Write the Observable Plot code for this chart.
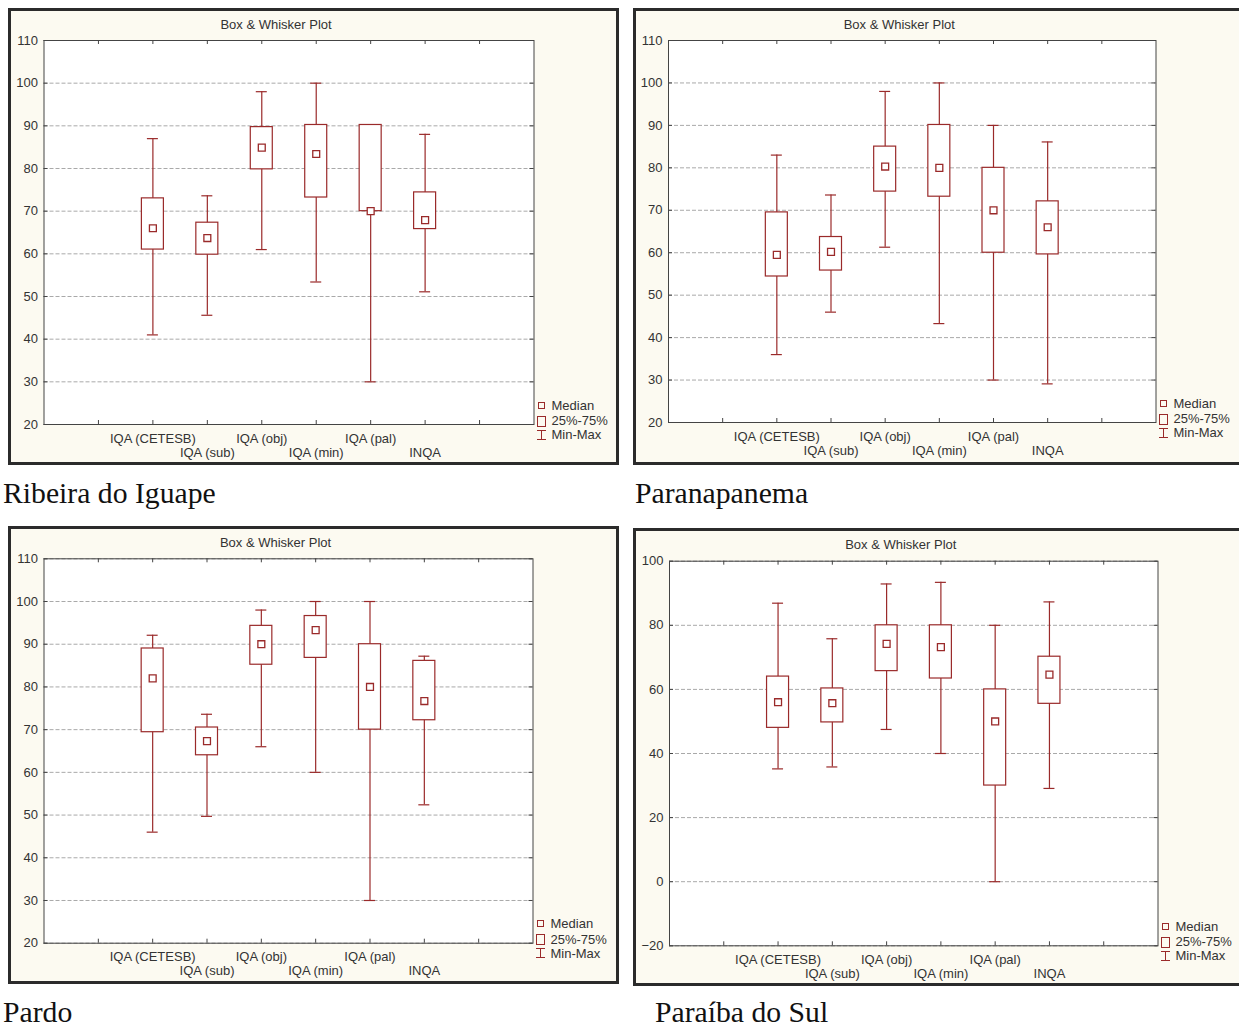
<!DOCTYPE html>
<html>
<head>
<meta charset="utf-8">
<script src="https://cdn.jsdelivr.net/npm/d3@7"></script>
<script src="https://cdn.jsdelivr.net/npm/@observablehq/plot@0.6"></script>
<style>
  html, body { margin: 0; padding: 0; background: #ffffff; }
  body { position: relative; width: 1239px; height: 1030px; overflow: hidden; font-family: "Liberation Sans", Arial, sans-serif; }
  .frame { position: absolute; box-sizing: border-box; border: 3px solid #2b2b2b; background: #fcfaf1; }
  .chart { position: absolute; }
  .chart svg { display: block; overflow: visible; }
  .caption { position: absolute; font-family: "Liberation Serif", "Times New Roman", serif; font-size: 29.7px; line-height: 29.7px; color: #111; white-space: nowrap; }
  .legtext { position: absolute; font-size: 13px; line-height: 15px; color: #333; white-space: nowrap; }
  .legbox { position: absolute; box-sizing: border-box; border: 1px solid #9a2a2a; }
  .legline { position: absolute; background: #9a2a2a; }
</style>
</head>
<body>
<script>
// ---------- data ----------
const categories = ["IQA (CETESB)", "IQA (sub)", "IQA (obj)", "IQA (min)", "IQA (pal)", "INQA"];
const regions = ["Ribeira do Iguape", "Paranapanema", "Pardo", "Paraíba do Sul"];
const chartTitle = "Box & Whisker Plot";
const legendLabels = ["Median", "25%-75%", "Min-Max"];

const ticksA = [20, 30, 40, 50, 60, 70, 80, 90, 100, 110];
const ticksB = [-20, 0, 20, 40, 60, 80, 100];

// Ribeira do Iguape
const ribeiraMin    = [41, 45.6, 61, 53.4, 30, 51.1];
const ribeiraQ1     = [61, 59.8, 79.8, 73.2, 70, 65.8];
const ribeiraMedian = [66, 63.7, 84.9, 83.4, 70, 67.9];
const ribeiraQ3     = [73, 67.3, 89.7, 90.2, 90.2, 74.4];
const ribeiraMax    = [87, 73.6, 98, 100, 90.2, 88];

// Paranapanema
const paranapanemaMin    = [36, 46, 61.3, 43.3, 30, 29.1];
const paranapanemaQ1     = [54.4, 55.8, 74.4, 73.2, 60, 59.6];
const paranapanemaMedian = [59.5, 60.2, 80.3, 80, 70, 66];
const paranapanemaQ3     = [69.5, 63.7, 85, 90.1, 80, 72.1];
const paranapanemaMax    = [83, 73.6, 98, 100, 90, 86.1];

// Pardo
const pardoMin    = [46, 49.7, 66, 60, 30, 52.4];
const pardoQ1     = [69.4, 64, 85.2, 86.8, 70, 72.2];
const pardoMedian = [82, 67.3, 90, 93.3, 80, 76.7];
const pardoQ3     = [89, 70.5, 94.3, 96.6, 90, 86.1];
const pardoMax    = [92.1, 73.6, 98, 100, 100, 87.2];

// Paraíba do Sul
const paraibaMin    = [35.2, 35.8, 47.5, 40, 0, 29.1];
const paraibaQ1     = [48, 49.7, 65.7, 63.4, 30, 55.5];
const paraibaMedian = [56, 55.7, 74.2, 73.2, 50, 64.6];
const paraibaQ3     = [64, 60.3, 80, 80, 60, 70.2];
const paraibaMax    = [86.9, 75.8, 92.9, 93.4, 80, 87.3];

// ---------- layout / style ----------
const RED = "#9a2a2a";
const panels = [
  {name: regions[0], min: ribeiraMin, q1: ribeiraQ1, med: ribeiraMedian, q3: ribeiraQ3, max: ribeiraMax,
   yDomain: [20, 110], yTicks: ticksA,
   fx: 8, fy: 8, fw: 611, fh: 457, px0: 43.5, px1: 533.5, py0: 40, py1: 424,
   cap: {x: 3, base: 504}},
  {name: regions[1], min: paranapanemaMin, q1: paranapanemaQ1, med: paranapanemaMedian, q3: paranapanemaQ3, max: paranapanemaMax,
   yDomain: [20, 110], yTicks: ticksA,
   fx: 633, fy: 8, fw: 620, fh: 457, px0: 668, px1: 1155.5, py0: 40, py1: 422,
   cap: {x: 635, base: 504}},
  {name: regions[2], min: pardoMin, q1: pardoQ1, med: pardoMedian, q3: pardoQ3, max: pardoMax,
   yDomain: [20, 110], yTicks: ticksA,
   fx: 8, fy: 526, fw: 611, fh: 458, px0: 43.5, px1: 532.5, py0: 558.3, py1: 942.7,
   cap: {x: 3, base: 1023}},
  {name: regions[3], min: paraibaMin, q1: paraibaQ1, med: paraibaMedian, q3: paraibaQ3, max: paraibaMax,
   yDomain: [-20, 100], yTicks: ticksB,
   fx: 633, fy: 528, fw: 620, fh: 458, px0: 669, px1: 1157.5, py0: 560.7, py1: 945.3,
   cap: {x: 655, base: 1023}}
];

function el(cls, style, text) {
  const d = document.createElement("div");
  d.className = cls;
  Object.assign(d.style, style);
  if (text != null) d.textContent = text;
  document.body.appendChild(d);
  return d;
}

for (const p of panels) {
  const rows = categories.map((c, i) => ({
    cat: c, pos: i + 2, row: i % 2,
    min: p.min[i], q1: p.q1[i], med: p.med[i], q3: p.q3[i], max: p.max[i]
  }));
  const mL = p.px0 - p.fx, mR = p.fx + p.fw - p.px1;
  const mT = p.py0 - p.fy, mB = p.fy + p.fh - p.py1;
  const pw = p.px1 - p.px0, ph = p.py1 - p.py0;
  const slot = pw / 9;
  const boxInset = (slot - 22) / 2;
  const capInset = (slot - 11) / 2;
  const xTicks = d3.range(1, 9);

  el("frame", {left: p.fx + "px", top: p.fy + "px", width: p.fw + "px", height: p.fh + "px"});

  const chart = Plot.plot({
    width: p.fw, height: p.fh,
    marginLeft: mL, marginRight: mR, marginTop: mT, marginBottom: mB,
    style: {background: "transparent", fontFamily: "'Liberation Sans', Arial, sans-serif", fontSize: "13px", color: "#333", overflow: "visible"},
    x: {type: "linear", domain: [0, 9], axis: null},
    y: {domain: p.yDomain, axis: null},
    marks: [
      Plot.frame({fill: "white", stroke: null}),
      Plot.gridY(p.yTicks, {stroke: "#a9a9a9", strokeOpacity: 1, strokeDasharray: "4,2"}),
      Plot.tickY(p.yTicks, {y: d => d, stroke: "#444", insetRight: pw - 4}),
      Plot.tickY(p.yTicks, {y: d => d, stroke: "#444", insetLeft: pw - 4}),
      Plot.tickX(xTicks, {x: d => d, stroke: "#444", insetBottom: ph - 4}),
      Plot.tickX(xTicks, {x: d => d, stroke: "#444", insetTop: ph - 4}),
      Plot.axisY(p.yTicks, {tickSize: 0, tickPadding: 6, fontSize: 13, fill: "#333", label: null}),
      Plot.ruleX(rows, {x: "pos", y1: "min", y2: "max", stroke: RED, strokeWidth: 1.2}),
      Plot.ruleY(rows, {y: "min", x1: d => d.pos - 0.5, x2: d => d.pos + 0.5, insetLeft: capInset, insetRight: capInset, stroke: RED, strokeWidth: 1.2}),
      Plot.ruleY(rows, {y: "max", x1: d => d.pos - 0.5, x2: d => d.pos + 0.5, insetLeft: capInset, insetRight: capInset, stroke: RED, strokeWidth: 1.2}),
      Plot.rect(rows, {x1: d => d.pos - 0.5, x2: d => d.pos + 0.5, y1: "q1", y2: "q3", insetLeft: boxInset, insetRight: boxInset, fill: "white", stroke: RED, strokeWidth: 1.2}),
      Plot.dot(rows, {x: "pos", y: "med", symbol: "square", r: 3.9, fill: "white", stroke: RED, strokeWidth: 1.3}),
      Plot.text(rows.filter(d => d.row === 0), {x: "pos", text: "cat", frameAnchor: "bottom", lineAnchor: "middle", dy: 14, fill: "#333", fontSize: 13}),
      Plot.text(rows.filter(d => d.row === 1), {x: "pos", text: "cat", frameAnchor: "bottom", lineAnchor: "middle", dy: 28, fill: "#333", fontSize: 13}),
      Plot.text([chartTitle], {frameAnchor: "top", lineAnchor: "middle", dx: -13, dy: -16, fill: "#333", fontSize: 13}),
      Plot.frame({stroke: "#444", strokeWidth: 1})
    ]
  });
  const holder = el("chart", {left: p.fx + "px", top: p.fy + "px", width: p.fw + "px", height: p.fh + "px"});
  holder.appendChild(chart);

  // legend
  const lx = p.px1, ly = p.py1;
  el("legbox", {left: (lx + 4.5) + "px", top: (ly - 22.5) + "px", width: "7px", height: "7px"});
  el("legtext", {left: (lx + 18) + "px", top: (ly - 19 - 7.5) + "px"}, legendLabels[0]);
  el("legbox", {left: (lx + 3.5) + "px", top: (ly - 8.5) + "px", width: "9px", height: "11px"});
  el("legtext", {left: (lx + 18) + "px", top: (ly - 3.5 - 7.5) + "px"}, legendLabels[1]);
  el("legline", {left: (lx + 3.5) + "px", top: (ly + 5.5) + "px", width: "9px", height: "1px"});
  el("legline", {left: (lx + 3.5) + "px", top: (ly + 14.5) + "px", width: "9px", height: "1px"});
  el("legline", {left: (lx + 7.5) + "px", top: (ly + 5.5) + "px", width: "1px", height: "10px"});
  el("legtext", {left: (lx + 18) + "px", top: (ly + 10.3 - 7.5) + "px"}, legendLabels[2]);

  // caption
  el("caption", {left: p.cap.x + "px", top: (p.cap.base - 24.9) + "px"}, p.name);
}
</script>
</body>
</html>
